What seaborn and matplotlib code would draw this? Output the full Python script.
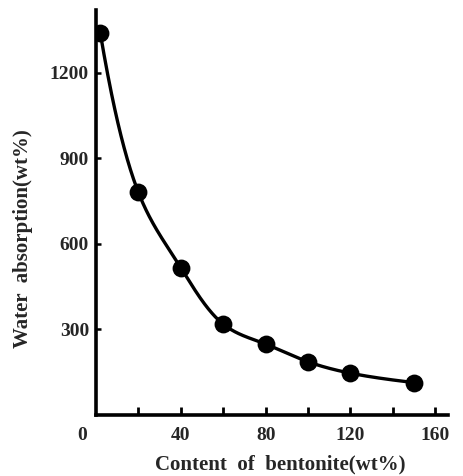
import numpy as np
import pandas as pd
import matplotlib
matplotlib.use("Agg")
import matplotlib.pyplot as plt
import seaborn as sns

# Data
bentonite = [2, 20, 40, 60, 80, 100, 120, 150]
absorption = [1340, 780, 516, 318, 248, 186, 146, 113]
x_major = [40, 80, 120, 160]
x_minor = [20, 60, 100, 140]
y_ticks = [300, 600, 900, 1200]

sns.set_theme(style="white")
plt.rcParams['font.family'] = ['Liberation Serif', 'DejaVu Serif']
plt.rcParams['font.weight'] = 'bold'


def natural_spline(x, y, xs):
    x = np.asarray(x, float); y = np.asarray(y, float)
    n = len(x); h = np.diff(x)
    A = np.zeros((n, n)); b = np.zeros(n)
    A[0, 0] = 1; A[-1, -1] = 1
    for i in range(1, n - 1):
        A[i, i - 1] = h[i - 1]; A[i, i] = 2 * (h[i - 1] + h[i]); A[i, i + 1] = h[i]
        b[i] = 6 * ((y[i + 1] - y[i]) / h[i] - (y[i] - y[i - 1]) / h[i - 1])
    M = np.linalg.solve(A, b)
    idx = np.clip(np.searchsorted(x, xs) - 1, 0, n - 2)
    x0 = x[idx]; x1 = x[idx + 1]; hh = h[idx]
    return (M[idx] * (x1 - xs) ** 3 / (6 * hh) + M[idx + 1] * (xs - x0) ** 3 / (6 * hh)
            + (y[idx] / hh - M[idx] * hh / 6) * (x1 - xs)
            + (y[idx + 1] / hh - M[idx + 1] * hh / 6) * (xs - x0))


df = pd.DataFrame({"x": bentonite, "y": absorption})
xs = np.linspace(min(bentonite), max(bentonite), 500)
# smooth curve through the points (spline in log space keeps it monotone and convex)
curve = pd.DataFrame({"x": xs, "y": np.exp(natural_spline(bentonite, np.log(absorption), xs))})

W, H = 463, 476
fig = plt.figure(figsize=(W / 100, H / 100), dpi=100)
ax = fig.add_axes([96 / W, (H - 414.8) / H, (448 - 96) / W, (414.8 - 10) / H])

sns.lineplot(data=curve, x="x", y="y", ax=ax, color="black", linewidth=2.4, sort=False)
sns.scatterplot(data=df, x="x", y="y", ax=ax, color="black", s=165, edgecolor="black", linewidth=0, zorder=5)

ax.set_xlim(0, 166)
ax.set_ylim(0, 1420)

for s in ["top", "right"]:
    ax.spines[s].set_visible(False)
for s in ["left", "bottom"]:
    ax.spines[s].set_linewidth(2.6)
    ax.spines[s].set_color("black")

ax.set_xticks(x_major)
ax.set_xticks(x_minor, minor=True)
ax.set_xticklabels([str(v) for v in x_major])
ax.set_yticks(y_ticks)
ax.set_yticklabels([str(v) for v in y_ticks])

ax.tick_params(axis="x", which="both", direction="in", length=5.5, width=2, color="black",
               pad=9, labelsize=14, bottom=True)
ax.tick_params(axis="y", which="major", direction="in", length=3.5, width=1.8, color="black",
               pad=5, labelsize=14, left=True)
for lab in ax.get_xticklabels() + ax.get_yticklabels():
    lab.set_fontweight("bold")

ax.annotate("0", xy=(0, 0), xycoords="data", xytext=(-10, -9), textcoords="offset points",
            ha="center", va="top", fontsize=14, fontweight="bold")

ax.set_xlabel("Content  of  bentonite(wt%)", fontsize=15, fontweight="bold")
ax.set_ylabel("Water  absorption(wt%)", fontsize=15, fontweight="bold")
ax.xaxis.set_label_coords(0.523, -0.099)
ax.yaxis.set_label_coords(-0.179, 0.434)

fig.savefig("out.png", dpi=100)
